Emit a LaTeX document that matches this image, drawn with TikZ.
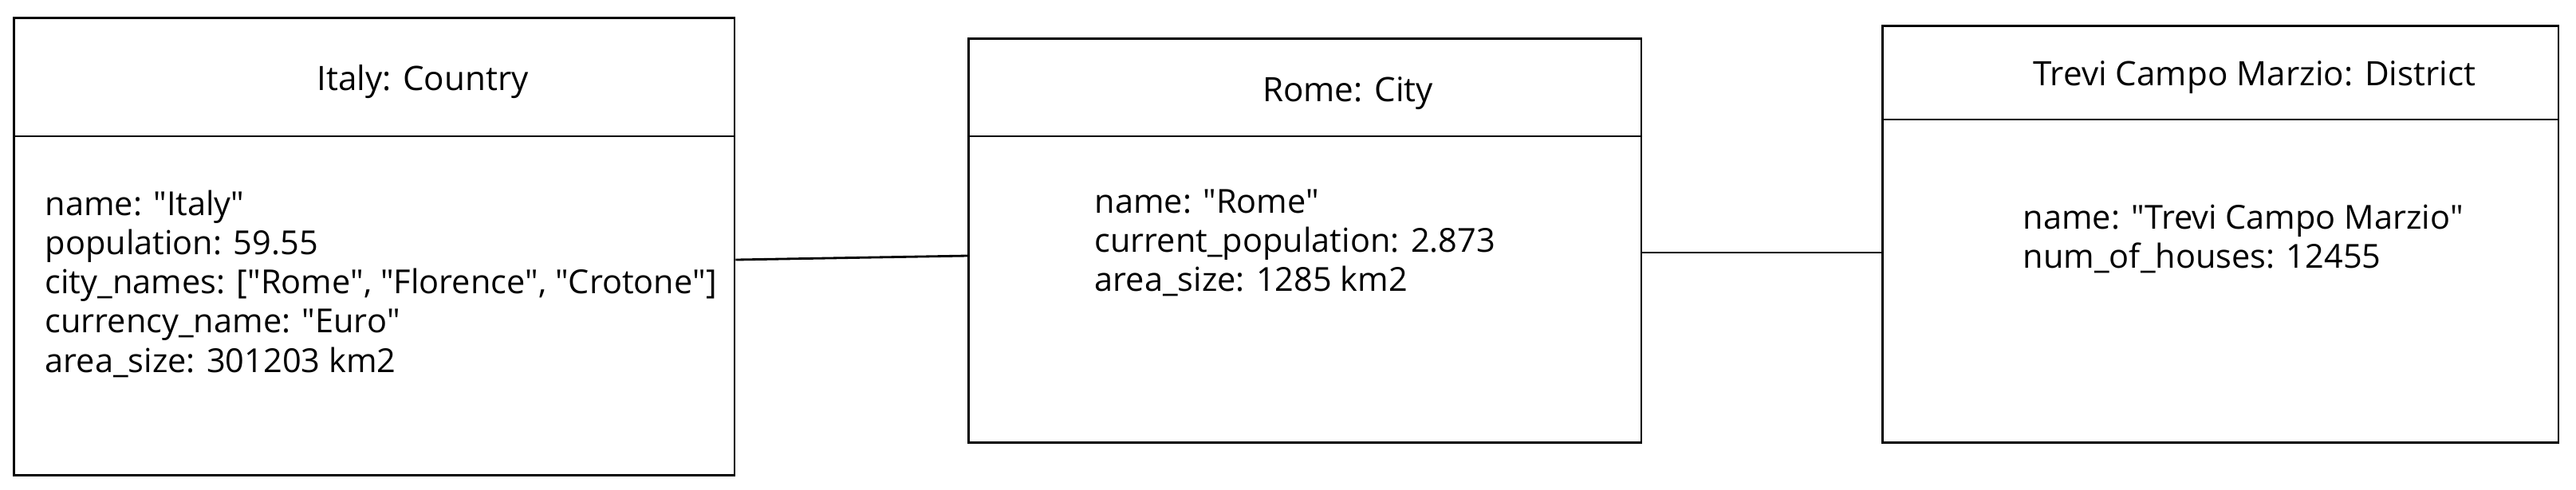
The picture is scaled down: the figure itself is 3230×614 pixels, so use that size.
\documentclass[tikz,border=0pt]{standalone}
\usepackage{fontspec}
\setmainfont{Open Sans}
\usetikzlibrary{positioning}
\newcommand{\dq}{\textquotedbl}

\begin{document}
\begin{tikzpicture}[x=0.01cm, y=-0.01cm,
  objbox/.style={draw, thick, rectangle, anchor=north west, inner sep=0pt},
  titletext/.style={font=\fontsize{12pt}{14pt}\selectfont},
  fieldtext/.style={font=\fontsize{11.8pt}{14pt}\selectfont, align=left, anchor=west, inner sep=0pt},
  link/.style={thick}]
  \useasboundingbox (0,0) rectangle (3230,614);

  % Italy object
  \node[objbox, minimum width=9.03cm, minimum height=5.74cm] (italy) at (16,21) {};
  \draw[thick] (italy.west |- 0,171) -- (italy.east |- 0,171);
  \node[titletext] (italytitle) at (530,103) {Italy: Country};
  \node[fieldtext] (italyfields) at (56,356) {name: \dq Italy\dq\\population: 59.55\\city\_names: [\dq Rome\dq, \dq Florence\dq, \dq Crotone\dq]\\currency\_name: \dq Euro\dq\\area\_size: 301203 km2};

  % Rome object
  \node[objbox, minimum width=8.43cm, minimum height=5.07cm] (rome) at (1213,47) {};
  \draw[thick] (rome.west |- 0,171) -- (rome.east |- 0,171);
  \node[titletext] (rometitle) at (1690,117) {Rome: City};
  \node[fieldtext] (romefields) at (1372,305) {name: \dq Rome\dq\\current\_population: 2.873\\area\_size: 1285 km2};

  % Trevi object
  \node[objbox, minimum width=8.47cm, minimum height=5.23cm] (trevi) at (2359,31) {};
  \draw[thick] (trevi.west |- 0,150) -- (trevi.east |- 0,150);
  \node[titletext] (trevititle) at (2827,97) {Trevi Campo Marzio: District};
  \node[fieldtext] (trevifields) at (2536,300) {name: \dq Trevi Campo Marzio\dq\\num\_of\_houses: 12455};

  % Links
  \draw[link] (italy.east |- 0,326) -- (rome.west |- 0,321);
  \draw[link] (rome.east |- 0,317) -- (trevi.west |- 0,317);
\end{tikzpicture}
\end{document}
